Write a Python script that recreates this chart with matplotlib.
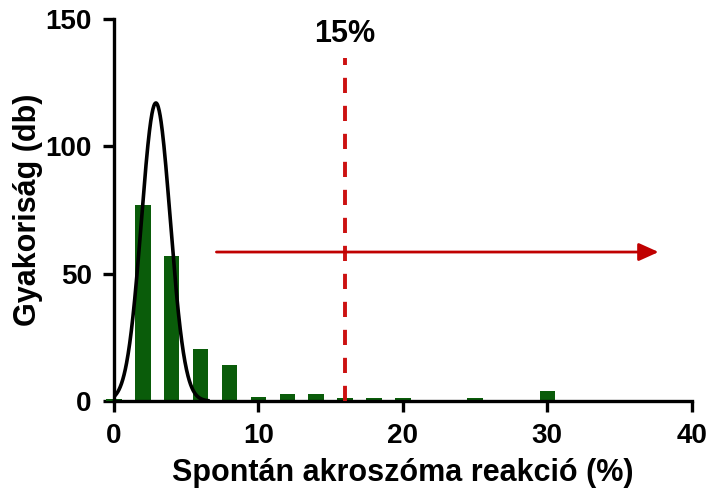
import numpy as np
import matplotlib
matplotlib.use("Agg")
import matplotlib.pyplot as plt

plt.rcParams['font.family'] = ['Liberation Sans', 'DejaVu Sans']
plt.rcParams['font.weight'] = 'bold'

# histogram of spontaneous acrosome reaction (%)
bin_centers = [0, 2, 4, 6, 8, 10, 12, 14, 16, 18, 20, 25, 30]
counts = [1, 77, 57, 20.5, 14, 1.6, 2.6, 2.6, 1.2, 1.2, 1.2, 1.3, 3.9]

# gaussian fit parameters
fit_mean = 2.9
fit_sd = 1.0
fit_peak = 117

cutoff_x = 16
cutoff_label = "15%"
arrow_start = 6.9
arrow_end = 37.9
arrow_y = 58.5

fig = plt.figure(figsize=(7.08, 4.97), dpi=100)
ax = fig.add_axes([0.161, 0.193, 0.816, 0.769])

ax.bar(bin_centers, counts, width=1.07, color='#0a5c0a', clip_on=False, zorder=2)

xs = np.linspace(0, 6.5, 300)
ys = fit_peak * np.exp(-0.5 * ((xs - fit_mean) / fit_sd) ** 2)
ax.plot(xs, ys, color='black', lw=2.6, zorder=3)

ax.plot([cutoff_x, cutoff_x], [0, 134.5], color='#cc1111', lw=2.8, ls=(0, (3.9, 3.3)), zorder=3)
ax.text(cutoff_x, 144, cutoff_label, ha='center', va='center', fontsize=22, fontweight='bold')

ax.annotate('', xy=(arrow_end, arrow_y), xytext=(arrow_start, arrow_y),
            arrowprops=dict(arrowstyle='-|>,head_length=1.0,head_width=0.45',
                            mutation_scale=12, color='#c00000', lw=2.0))

ax.set_xlim(0, 40)
ax.set_ylim(0, 150)
ax.set_xticks([0, 10, 20, 30, 40])
ax.set_yticks([0, 50, 100, 150])

for s in ['top', 'right']:
    ax.spines[s].set_visible(False)
for s in ['left', 'bottom']:
    ax.spines[s].set_linewidth(2.4)
ax.tick_params(width=2.4, length=8, labelsize=20, pad=8)
for lab in ax.get_xticklabels() + ax.get_yticklabels():
    lab.set_fontweight('bold')

ax.set_xlabel('Spontán akroszóma reakció (%)', fontsize=22, fontweight='bold', labelpad=6)
ax.set_ylabel('Gyakoriság (db)', fontsize=22, fontweight='bold')
ax.yaxis.set_label_coords(-0.123, 0.5)

fig.savefig('out.png', dpi=100)
